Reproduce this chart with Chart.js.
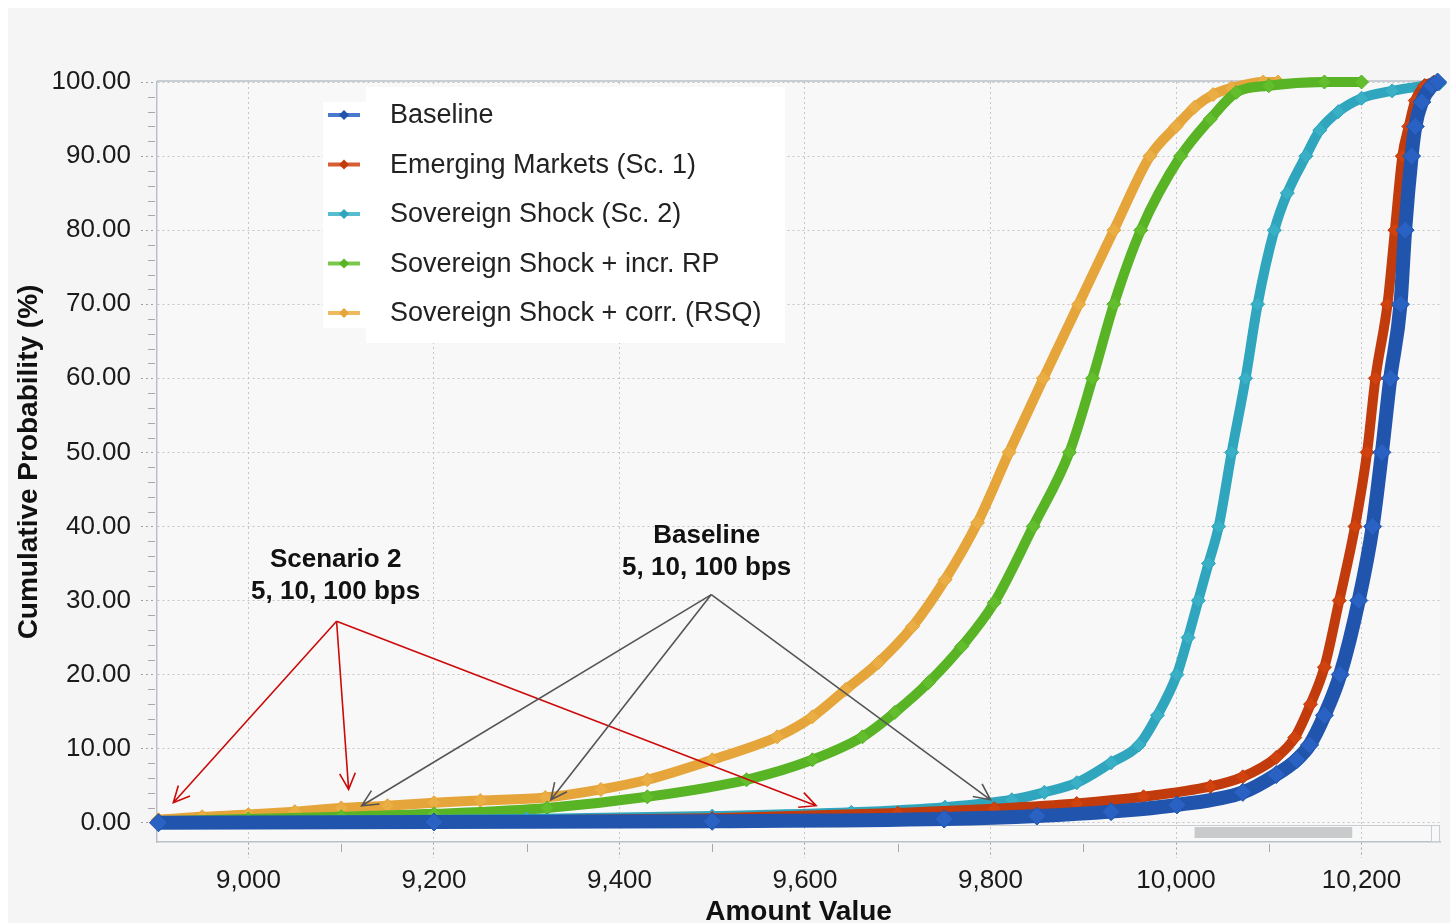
<!DOCTYPE html>
<html>
<head>
<meta charset="utf-8">
<title>Cumulative Probability</title>
<script src="https://cdn.jsdelivr.net/npm/chart.js@4.4.1/dist/chart.umd.min.js"></script>
<style>
  html, body { margin: 0; padding: 0; background: #fff; overflow: hidden; }
  #wrap { width: 1450px; height: 923px; }
</style>
</head>
<body>
<div id="wrap"><canvas id="cdf" width="1450" height="923"></canvas></div>
<script>
/* ── data ──────────────────────────────────────────────────────── */
const SERIES_LABELS = [
  'Baseline',
  'Emerging Markets (Sc. 1)',
  'Sovereign Shock (Sc. 2)',
  'Sovereign Shock + incr. RP',
  'Sovereign Shock + corr. (RSQ)',
];

const baselineX = [8903, 9200, 9500, 9750, 9850, 9930, 10001, 10072, 10108, 10130, 10144, 10160, 10177, 10197, 10212, 10222, 10231, 10242, 10247, 10254, 10258, 10265, 10276, 10282];
const baselineY = [0, 0.1, 0.2, 0.5, 0.9, 1.5, 2.4, 4.1, 6.5, 8.5, 10.5, 14.5, 20, 30, 40, 50, 60, 70, 80, 90, 94, 97.3, 99.5, 100];

const emergingX = [8903, 9200, 9500, 9700, 9804, 9893, 9965, 10037, 10072, 10108, 10128, 10145, 10160, 10176, 10193, 10206, 10215, 10228, 10236, 10244, 10251, 10258, 10268, 10278];
const emergingY = [0, 0.2, 0.6, 1.3, 1.9, 2.6, 3.5, 4.9, 6.2, 8.8, 11.5, 16, 21, 30, 40, 50, 60, 70, 80, 90, 94, 97.5, 99.5, 100];

const sovereignX = [8903, 9300, 9500, 9650, 9751, 9823, 9858, 9893, 9930, 9960, 9980, 10001, 10013, 10024, 10035, 10046, 10060, 10075, 10088, 10106, 10120, 10140, 10155, 10175, 10200, 10233, 10268, 10284];
const sovereignY = [0.1, 0.5, 0.9, 1.4, 2.1, 3.1, 4.1, 5.4, 8.1, 10.5, 14.5, 20, 25, 30, 35, 40, 50, 60, 70, 80, 85, 90, 93.5, 96, 97.8, 98.8, 99.5, 99.8];

const incrRpX = [8903, 9000, 9100, 9200, 9322, 9430, 9537, 9608, 9662, 9697, 9733, 9769, 9804, 9846, 9885, 9910, 9933, 9962, 10005, 10037, 10065, 10100, 10160, 10200];
const incrRpY = [0.2, 0.5, 0.8, 1.2, 2.0, 3.5, 5.8, 8.5, 11.6, 14.9, 18.9, 23.8, 29.7, 40, 50, 60, 70, 80, 90, 95, 98.6, 99.5, 100, 100];

const corrX = [8903, 8950, 9000, 9050, 9100, 9150, 9200, 9250, 9320, 9380, 9430, 9500, 9570, 9608, 9644, 9679, 9716, 9751, 9786, 9820, 9857, 9895, 9933, 9972, 10000, 10020, 10040, 10060, 10094, 10110];
const corrY = [0.4, 0.8, 1.1, 1.5, 2.0, 2.3, 2.7, 3.0, 3.4, 4.5, 5.8, 8.5, 11.6, 14.3, 18.0, 21.6, 26.5, 32.8, 40.5, 50, 60, 70, 80, 90, 94, 96.6, 98.3, 99.2, 100, 100];

const X_TICKS = [9000, 9200, 9400, 9600, 9800, 10000, 10200];
const Y_TICKS = [0, 10, 20, 30, 40, 50, 60, 70, 80, 90, 100];

// annotation callouts, in data units
const SCEN2_TEXT = ['Scenario 2', '5, 10, 100 bps'];
const SCEN2_TEXT_AT = [9094, 35.5];
const SCEN2_FROM = [9095, 27.2];
const SCEN2_TO = [[8919, 2.7], [9108, 4.5], [9612, 2.3]];

const BASE_TEXT = ['Baseline', '5, 10, 100 bps'];
const BASE_TEXT_AT = [9494, 38.8];
const BASE_FROM = [9499, 30.8];
const BASE_TO = [[9122, 2.3], [9326, 3.1], [9800, 3.1]];

/* ── styling ───────────────────────────────────────────────────── */
const LINE_COLORS = ['#2154ac', '#c23b0c', '#2fa6bd', '#58b325', '#e5a53a'];
const POINT_COLORS = ['#2a62c4', '#d0420e', '#3ab0c6', '#62be2c', '#eaae44'];
const FONT = "'Liberation Sans', Arial, sans-serif";

const toXY = (xs, ys) => xs.map((x, i) => ({ x, y: ys[i] }));
const seriesData = [
  toXY(baselineX, baselineY),
  toXY(emergingX, emergingY),
  toXY(sovereignX, sovereignY),
  toXY(incrRpX, incrRpY),
  toXY(corrX, corrY),
];

function drawArrow(ctx, x1, y1, x2, y2, color) {
  const ang = Math.atan2(y2 - y1, x2 - x1);
  const head = 18, spread = 0.45;
  ctx.save();
  ctx.strokeStyle = color;
  ctx.lineWidth = 1.6;
  ctx.beginPath();
  ctx.moveTo(x1, y1);
  ctx.lineTo(x2, y2);
  ctx.moveTo(x2 - head * Math.cos(ang - spread), y2 - head * Math.sin(ang - spread));
  ctx.lineTo(x2, y2);
  ctx.lineTo(x2 - head * Math.cos(ang + spread), y2 - head * Math.sin(ang + spread));
  ctx.stroke();
  ctx.restore();
}

const backdrop = {
  id: 'backdrop',
  beforeDraw(chart) {
    const { ctx, chartArea: a } = chart;
    ctx.save();
    ctx.fillStyle = '#fff';
    ctx.fillRect(0, 0, chart.width, chart.height);
    ctx.fillStyle = '#f5f5f5';
    ctx.fillRect(8, 8, chart.width - 8, chart.height - 8);
    ctx.fillStyle = '#f8f8f8';
    ctx.fillRect(a.left, a.top, a.right - a.left, a.bottom - a.top);
    ctx.restore();
  },
  beforeDatasetsDraw(chart) {
    const { ctx, chartArea: a, scales: { x, y } } = chart;
    ctx.save();
    // frame top
    ctx.strokeStyle = '#b9c0c8';
    ctx.lineWidth = 1.5;
    ctx.beginPath();
    ctx.moveTo(a.left, a.top - 1);
    ctx.lineTo(a.right, a.top - 1);
    ctx.stroke();
    // scrollbar strip along the bottom
    ctx.strokeStyle = '#c9cdd2';
    ctx.lineWidth = 1;
    ctx.beginPath();
    ctx.moveTo(a.left, a.bottom - 16.5);
    ctx.lineTo(a.right, a.bottom - 16.5);
    ctx.stroke();
    ctx.fillStyle = '#c8cacc';
    ctx.fillRect(x.getPixelForValue(10020), a.bottom - 15, x.getPixelForValue(10190) - x.getPixelForValue(10020), 11);
    ctx.strokeRect(a.right - 8.5, a.bottom - 16.5, 8, 16);
    // minor ticks
    ctx.strokeStyle = '#a8a8a8';
    ctx.lineWidth = 1;
    ctx.beginPath();
    for (let v = 2; v < 100; v += 2) {
      if (v % 10 === 0) continue;
      const py = Math.round(y.getPixelForValue(v)) + 0.5;
      ctx.moveTo(a.left - 9, py);
      ctx.lineTo(a.left - 2, py);
    }
    for (let v = 9100; v < 10284; v += 200) {
      const px = Math.round(x.getPixelForValue(v)) + 0.5;
      ctx.moveTo(px, a.bottom + 2);
      ctx.lineTo(px, a.bottom + 10);
    }
    ctx.stroke();
    ctx.restore();
  },
};

const overlays = {
  id: 'overlays',
  afterDraw(chart) {
    const { ctx, chartArea: a, scales: { x, y } } = chart;
    const P = (v) => [x.getPixelForValue(v[0]), y.getPixelForValue(v[1])];

    // legend box
    ctx.save();
    ctx.fillStyle = '#ffffff';
    ctx.fillRect(a.left + 166, 102, 44, 226);
    ctx.fillRect(a.left + 209, 87, 419, 256);
    ctx.font = `27px ${FONT}`;
    ctx.textBaseline = 'middle';
    ctx.textAlign = 'left';
    SERIES_LABELS.forEach((lab, i) => {
      const ry = 115 + i * 49.5;
      const mx = a.left + 187;
      ctx.strokeStyle = POINT_COLORS[i];
      ctx.lineWidth = 4;
      ctx.globalAlpha = 0.85;
      ctx.beginPath();
      ctx.moveTo(mx - 16, ry);
      ctx.lineTo(mx + 16, ry);
      ctx.stroke();
      ctx.globalAlpha = 1;
      ctx.fillStyle = LINE_COLORS[i];
      ctx.beginPath();
      ctx.moveTo(mx - 5, ry); ctx.lineTo(mx, ry - 5); ctx.lineTo(mx + 5, ry); ctx.lineTo(mx, ry + 5);
      ctx.closePath();
      ctx.fill();
      ctx.fillStyle = '#222';
      ctx.fillText(lab, a.left + 233, ry + 1);
    });

    // callouts
    ctx.font = `bold 26px ${FONT}`;
    ctx.textAlign = 'center';
    ctx.fillStyle = '#111';
    [[SCEN2_TEXT, SCEN2_TEXT_AT], [BASE_TEXT, BASE_TEXT_AT]].forEach(([lines, at]) => {
      const [tx, ty] = P(at);
      lines.forEach((t, k) => ctx.fillText(t, tx, ty + k * 32));
    });
    const [rx, ry0] = P(SCEN2_FROM);
    SCEN2_TO.forEach(t => { const [px, py] = P(t); drawArrow(ctx, rx, ry0, px, py, '#cc0a0a'); });
    const [gx, gy] = P(BASE_FROM);
    BASE_TO.forEach(t => { const [px, py] = P(t); drawArrow(ctx, gx, gy, px, py, '#555555'); });
    ctx.restore();
  },
};

new Chart(document.getElementById('cdf'), {
  type: 'line',
  data: {
    datasets: SERIES_LABELS.map((label, i) => ({
      label,
      data: seriesData[i],
      borderColor: LINE_COLORS[i],
      backgroundColor: POINT_COLORS[i],
      borderWidth: i === 0 ? 14 : 10,
      pointStyle: 'rectRot',
      pointRadius: i === 0 ? 9 : 7,
      pointBackgroundColor: POINT_COLORS[i],
      pointBorderColor: LINE_COLORS[i],
      pointBorderWidth: 1,
      cubicInterpolationMode: 'monotone',
      fill: false,
      clip: false,
    })),
  },
  options: {
    responsive: false,
    animation: false,
    devicePixelRatio: 1,
    layout: { padding: { top: 82, right: 2, left: 0, bottom: 0 } },
    plugins: { legend: { display: false }, tooltip: { enabled: false } },
    scales: {
      x: {
        type: 'linear',
        min: 8901.4,
        max: 10284.6,
        afterBuildTicks: s => { s.ticks = X_TICKS.map(v => ({ value: v })); },
        afterFit: s => { s.height = 81; },
        grid: { color: '#c6c6c6', lineWidth: 1, tickLength: 16, tickColor: '#a0a0a0', tickBorderDash: [2, 3] },
        border: { color: '#b9c0c8', width: 1.5, dash: [2, 3] },
        ticks: {
          color: '#1a1a1a', padding: 7, maxRotation: 0, autoSkip: false,
          font: { family: FONT, size: 26 },
          callback: v => v.toLocaleString('en-US'),
        },
        title: {
          display: true, text: 'Amount Value', color: '#111', padding: 0,
          font: { family: FONT, size: 28, weight: 'bold', lineHeight: 0.8 },
        },
      },
      y: {
        min: -2.6,
        max: 100,
        afterBuildTicks: s => { s.ticks = Y_TICKS.map(v => ({ value: v })); },
        afterFit: s => { s.width = 157; },
        grid: { color: '#c6c6c6', lineWidth: 1, tickLength: 16, tickColor: '#a0a0a0', tickBorderDash: [2, 3] },
        border: { color: '#b9c0c8', width: 1.5, dash: [2, 3] },
        ticks: {
          color: '#1a1a1a', padding: 10, autoSkip: false,
          font: { family: FONT, size: 26 },
          callback: v => v.toFixed(2),
        },
        title: {
          display: true, text: 'Cumulative Probability (%)', color: '#111', padding: { top: 17 },
          font: { family: FONT, size: 28, weight: 'bold', lineHeight: 0.9 },
        },
      },
    },
  },
  plugins: [backdrop, overlays],
});
</script>
</body>
</html>
